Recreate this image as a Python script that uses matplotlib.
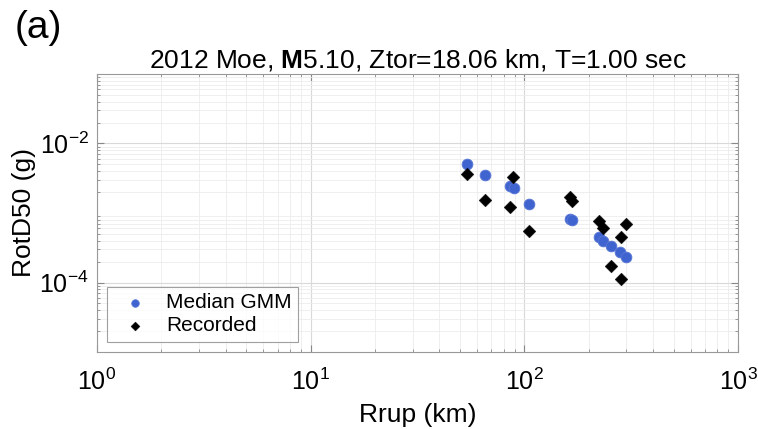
import numpy as np
import matplotlib
matplotlib.use("Agg")
import matplotlib.pyplot as plt
from matplotlib.ticker import LogLocator, NullFormatter

plt.rcParams['font.family'] = ['Liberation Sans', 'DejaVu Sans']
plt.rcParams['mathtext.fontset'] = 'custom'
plt.rcParams['mathtext.rm'] = 'Liberation Sans'
plt.rcParams['mathtext.bf'] = 'Liberation Sans:bold'

# Median GMM predictions
gmm_rrup = [53.7, 65.5, 85.7, 89.4, 105.5, 163, 168, 224, 234, 254, 280, 299]
gmm_rotd50 = [4.99e-3, 3.56e-3, 2.41e-3, 2.28e-3, 1.33e-3, 8.3e-4, 7.86e-4,
              4.49e-4, 4.0e-4, 3.39e-4, 2.71e-4, 2.34e-4]

# Recorded motions
rec_rrup = [53.7, 65.5, 88.2, 85.7, 105.5, 163, 168, 224, 234, 299, 282, 254, 282]
rec_rotd50 = [3.69e-3, 1.54e-3, 3.27e-3, 1.20e-3, 5.5e-4, 1.68e-3, 1.51e-3,
              7.69e-4, 6.14e-4, 6.87e-4, 4.49e-4, 1.73e-4, 1.14e-4]

fig = plt.figure(figsize=(7.58, 4.29), dpi=100)
ax = fig.add_axes([97 / 758, 1 - 352 / 429, (738 - 97) / 758, (352 - 74) / 429])

ax.scatter(gmm_rrup, gmm_rotd50, s=60, color='#3f63cf', edgecolors='#5a78d6',
           linewidths=0.6, label='Median GMM', zorder=3)
ax.scatter(rec_rrup, rec_rotd50, s=42, marker='D', color='black',
           edgecolors='black', linewidths=0.3, label='Recorded', zorder=4)

ax.set_xscale('log')
ax.set_yscale('log')
ax.set_xlim(1, 1000)
ax.set_ylim(1e-5, 1e-1)

ax.xaxis.set_major_locator(LogLocator(base=10, numticks=10))
ax.set_yticks([1e-4, 1e-2])
ax.yaxis.set_minor_locator(LogLocator(base=10, subs=np.arange(2, 10), numticks=20))
ax.yaxis.set_minor_formatter(NullFormatter())
ax.xaxis.set_minor_formatter(NullFormatter())

ax.grid(True, which='major', color='#d9d9d9', linewidth=0.8)
ax.grid(True, which='minor', color='#ececec', linewidth=0.6)
ax.set_axisbelow(True)

ax.tick_params(which='both', direction='in', top=True, right=True,
               labelsize=18, color='#888888')
ax.tick_params(axis='x', which='major', pad=12)
ax.tick_params(axis='y', which='major', pad=6)
ax.tick_params(which='major', length=5)
ax.tick_params(which='minor', length=2.5)
for s in ax.spines.values():
    s.set_color('#999999')
    s.set_linewidth(0.8)

ax.set_xlabel('Rrup (km)', fontsize=19, labelpad=6)
ax.set_ylabel('RotD50 (g)', fontsize=19, labelpad=2)
ax.set_title(r'2012 Moe, $\mathbf{M}$5.10, Ztor=18.06 km, T=1.00 sec',
             fontsize=19, pad=5)

leg = ax.legend(loc='lower left', fontsize=15, frameon=True, fancybox=False,
                edgecolor='#888888', borderaxespad=0.5, handletextpad=0.5,
                borderpad=0.3, labelspacing=0.2, markerscale=0.7)
leg.get_frame().set_linewidth(0.8)

fig.text(15 / 758, 1 - 28 / 429, '(a)', fontsize=28, va='center', ha='left')

fig.savefig('out.png', dpi=100)
